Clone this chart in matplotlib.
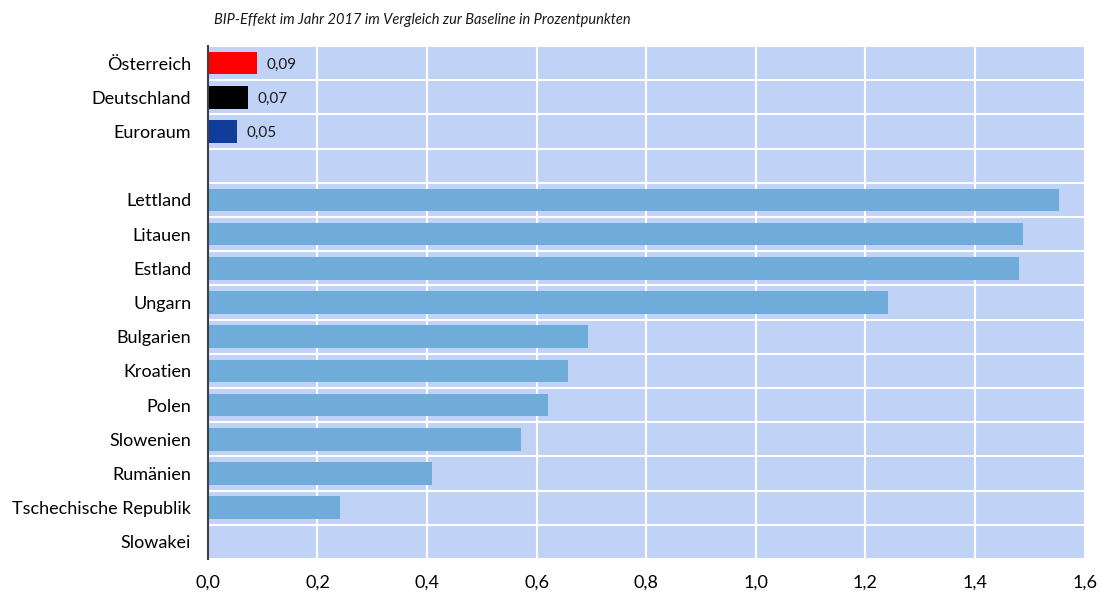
import numpy as np
import matplotlib.pyplot as plt
from matplotlib.ticker import FixedLocator, FuncFormatter

plt.rcParams['font.family'] = ['Lato', 'DejaVu Sans']

# data
countries = ['Österreich', 'Deutschland', 'Euroraum', '',
             'Lettland', 'Litauen', 'Estland', 'Ungarn', 'Bulgarien',
             'Kroatien', 'Polen', 'Slowenien', 'Rumänien',
             'Tschechische Republik', 'Slowakei']
values = [0.089, 0.073, 0.053, np.nan,
          1.553, 1.487, 1.480, 1.241, 0.693,
          0.657, 0.620, 0.571, 0.409,
          0.241, 0.0]
value_labels = ['0,09', '0,07', '0,05']
colors = ['#FF0000', '#000000', '#113C9A', 'none'] + ['#6FACDA'] * 11

fig = plt.figure(figsize=(11, 5.94), dpi=100)
ax = fig.add_axes([0.189, 0.0589, 0.797, 0.8637])
ax.set_facecolor('#C0D3F7')

y = np.arange(len(countries))
ax.barh(y, np.nan_to_num(values), height=0.66, color=colors, zorder=3)

# value labels for the top three
for i, lab in enumerate(value_labels):
    ax.text(values[i] + 0.018, y[i], lab, va='center_baseline', ha='left',
            fontsize=11, color='#1a1a1a', zorder=4)

ax.set_xlim(0, 1.6)
ax.set_ylim(len(countries) - 0.5, -0.5)
ax.set_yticks(y)
ax.set_yticklabels(countries, fontsize=13, va='center_baseline')
ax.set_xticks(np.arange(0, 1.61, 0.2))
ax.xaxis.set_major_formatter(FuncFormatter(lambda v, p: f'{v:.1f}'.replace('.', ',')))
ax.tick_params(axis='x', labelsize=13, length=0, pad=11)
ax.tick_params(axis='y', length=0, pad=12)

# white grid: vertical at major ticks, horizontal between rows
ax.yaxis.set_minor_locator(FixedLocator(np.arange(-0.5, len(countries), 1)))
ax.grid(axis='x', which='major', color='white', linewidth=1.5, zorder=1)
ax.grid(axis='y', which='minor', color='white', linewidth=1.5, zorder=1)
ax.tick_params(axis='y', which='minor', length=0)

for s in ['top', 'right', 'bottom']:
    ax.spines[s].set_visible(False)
ax.spines['left'].set_color('#404040')
ax.spines['left'].set_linewidth(1.5)
ax.spines['left'].set_zorder(5)

fig.text(0.195, 0.966, 'BIP-Effekt im Jahr 2017 im Vergleich zur Baseline in Prozentpunkten',
         fontsize=10.5, style='italic', ha='left', va='center', color='#1a1a1a')

fig.savefig('out.png', dpi=100)
